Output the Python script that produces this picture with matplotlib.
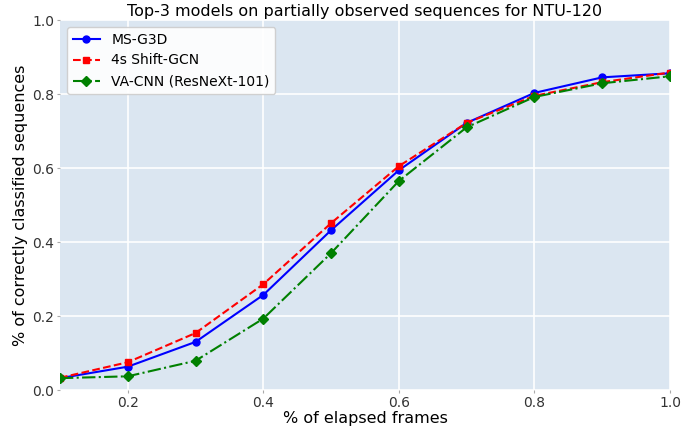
import matplotlib
matplotlib.use("Agg")
import matplotlib.pyplot as plt

frames = [0.1, 0.2, 0.3, 0.4, 0.5, 0.6, 0.7, 0.8, 0.9, 1.0]
ms_g3d = [0.032, 0.063, 0.130, 0.257, 0.432, 0.594, 0.722, 0.803, 0.845, 0.856]
shift_gcn = [0.033, 0.075, 0.154, 0.286, 0.451, 0.605, 0.722, 0.795, 0.832, 0.858]
va_cnn = [0.032, 0.037, 0.079, 0.193, 0.370, 0.565, 0.710, 0.792, 0.829, 0.848]

fig = plt.figure(figsize=(6.94, 4.30), dpi=100)
ax = fig.add_axes([60 / 694, 40 / 430, 610 / 694, 370 / 430])
ax.set_facecolor("#dbe6f1")
for s in ax.spines.values():
    s.set_visible(False)
ax.grid(True, color="white", linewidth=1.2)
ax.set_axisbelow(True)

ax.plot(frames, ms_g3d, "b-o", markersize=5, linewidth=1.5, label="MS-G3D")
ax.plot(frames, shift_gcn, "r--s", markersize=5, linewidth=1.5, label="4s Shift-GCN")
ax.plot(frames, va_cnn, "g-.D", markersize=5, linewidth=1.5, label="VA-CNN (ResNeXt-101)")

ax.set_xlim(0.1, 1.0)
ax.set_ylim(0, 1.0)
ax.set_xticks([0.2, 0.4, 0.6, 0.8, 1.0])
ax.set_yticks([0.0, 0.2, 0.4, 0.6, 0.8, 1.0])
ax.tick_params(labelsize=10, length=2, pad=2, color="#aaaaaa", labelcolor="#333333")
ax.set_xlabel("% of elapsed frames", fontsize=11.5, labelpad=1)
ax.set_ylabel("% of correctly classified sequences", fontsize=11.5, labelpad=3)
ax.set_title("Top-3 models on partially observed sequences for NTU-120", fontsize=11.5, pad=3)
ax.legend(loc="upper left", fontsize=10, framealpha=0.9)

fig.savefig("out.png", dpi=100)
